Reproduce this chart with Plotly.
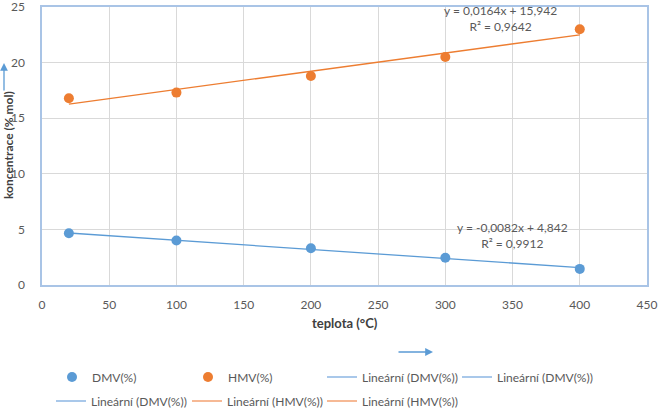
import plotly.graph_objects as go

# ---- data ----
teplota = [20, 100, 200, 300, 400]
dmv = [4.65, 4.0, 3.3, 2.45, 1.45]
hmv = [16.8, 17.3, 18.8, 20.5, 23.0]
dmv_fit = (-0.0082, 4.842)   # slope, intercept
hmv_fit = (0.0164, 15.942)
dmv_eq = "y = -0,0082x + 4,842<br>R² = 0,9912"
hmv_eq = "y = 0,0164x + 15,942<br>R² = 0,9642"
x_ticks = [0, 50, 100, 150, 200, 250, 300, 350, 400, 450]
y_ticks = [0, 5, 10, 15, 20, 25]

BLUE = "#5B9BD5"
ORANGE = "#ED7D31"
LBLUE = "#A9C8EA"
LORANGE = "#F6B995"
TXT = "#595959"
FONT = "Lato, Liberation Sans, sans-serif"

xr = [teplota[0], teplota[-1]]
fig = go.Figure()

# trendlines (drawn)
fig.add_trace(go.Scatter(x=xr, y=[dmv_fit[0]*v + dmv_fit[1] for v in xr], mode="lines",
                         line=dict(color=BLUE, width=1.3), showlegend=False, hoverinfo="skip"))
fig.add_trace(go.Scatter(x=xr, y=[hmv_fit[0]*v + hmv_fit[1] for v in xr], mode="lines",
                         line=dict(color=ORANGE, width=1.3), showlegend=False, hoverinfo="skip"))

# data points
fig.add_trace(go.Scatter(x=teplota, y=dmv, mode="markers", name="DMV(%)",
                         marker=dict(color=BLUE, size=10), legend="legend"))
fig.add_trace(go.Scatter(x=teplota, y=hmv, mode="markers", name="HMV(%)",
                         marker=dict(color=ORANGE, size=10), legend="legend2"))

# legend-only entries for trendlines
legend_entries = [
    ("Lineární (DMV(%))", LBLUE, "legend3"),
    ("Lineární (DMV(%))", LBLUE, "legend4"),
    ("Lineární (DMV(%))", LBLUE, "legend5"),
    ("Lineární (HMV(%))", LORANGE, "legend6"),
    ("Lineární (HMV(%))", LORANGE, "legend7"),
]
for name, col, lg in legend_entries:
    fig.add_trace(go.Scatter(x=[None], y=[None], mode="lines", name=name,
                             line=dict(color=col, width=2), legend=lg))

L, R, T, B = 42, 11, 7, 123
W, H = 658, 408
pw, ph = W - L - R, H - T - B

def px(x):
    return (x - L) / pw

def py(y):
    return (H - B - y) / ph

leg_common = dict(orientation="h", bgcolor="rgba(0,0,0,0)", yanchor="middle", xanchor="left",
                  font=dict(family=FONT, size=12, color=TXT), itemwidth=30)
# text start positions (px) of each legend entry
pos = [(94, 377), (230, 377), (364, 377), (499, 377), (93, 401), (229, 401), (364, 401)]
legs = {}
for i, (tx, ty) in enumerate(pos):
    key = "legend" if i == 0 else f"legend{i+1}"
    legs[key] = dict(leg_common, x=px(tx - 42), y=py(ty))

fig.update_layout(
    width=W, height=H,
    margin=dict(l=L, r=R, t=T, b=B, autoexpand=False),
    paper_bgcolor="white", plot_bgcolor="white",
    font=dict(family=FONT, size=12, color=TXT),
    showlegend=True,
    **legs,
    xaxis=dict(range=[0, 450], tickvals=x_ticks, showgrid=True, gridcolor="#D9D9D9", gridwidth=1,
               zeroline=False, showline=True, linecolor="#A9C4E6", linewidth=1.5, mirror=True,
               ticks="", ticklabelstandoff=8, ticklabeloverflow="allow",
               tickfont=dict(family=FONT, size=12, color=TXT)),
    yaxis=dict(range=[0, 25], tickvals=y_ticks, showgrid=True, gridcolor="#D9D9D9", gridwidth=1,
               zeroline=False, showline=True, linecolor="#A9C4E6", linewidth=1.5, mirror=True,
               ticks="", ticklabelstandoff=13, ticklabeloverflow="allow",
               tickfont=dict(family=FONT, size=12, color=TXT)),
)

# equations
fig.add_annotation(x=341.4, y=23.97, xref="x", yref="y", text=hmv_eq, showarrow=False,
                   xanchor="center", yanchor="middle",
                   font=dict(family=FONT, size=12, color=TXT), align="center")
fig.add_annotation(x=349.6, y=4.42, xref="x", yref="y", text=dmv_eq, showarrow=False,
                   xanchor="center", yanchor="middle",
                   font=dict(family=FONT, size=12, color=TXT), align="center")

# axis titles
fig.add_annotation(x=px(345), y=py(323), xref="paper", yref="paper", text="<b>teplota (°C)</b>",
                   xanchor="center", yanchor="middle",
                   showarrow=False, font=dict(family=FONT, size=13, color="#404040"))
fig.add_annotation(x=px(8), y=py(145), xref="paper", yref="paper", text="<b>koncentrace (% mol)</b>",
                   xanchor="center", yanchor="middle",
                   showarrow=False, textangle=-90, font=dict(family=FONT, size=12, color="#404040"))

# stray arrows
fig.add_annotation(x=px(4), y=py(63), xref="paper", yref="paper", ax=0, ay=29, text="",
                   showarrow=True, arrowhead=2, arrowsize=1.2, arrowwidth=1.3, arrowcolor=BLUE)
fig.add_annotation(x=px(433), y=py(352), xref="paper", yref="paper", ax=-36, ay=0, text="",
                   showarrow=True, arrowhead=2, arrowsize=1.2, arrowwidth=1.3, arrowcolor=BLUE)

fig.write_html("out.html", config={"displayModeBar": False},
               post_script="document.body.style.margin='0';document.body.style.overflow='hidden';")
